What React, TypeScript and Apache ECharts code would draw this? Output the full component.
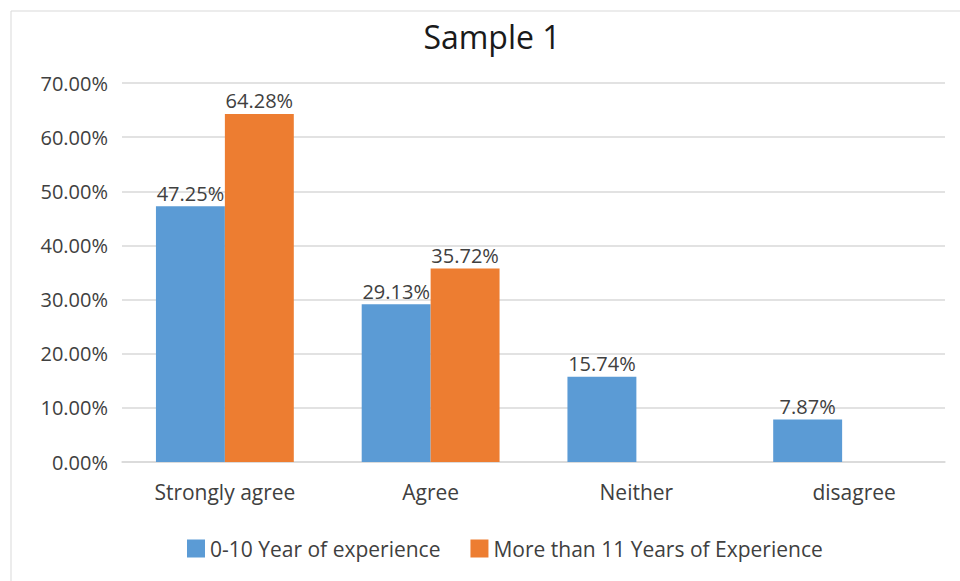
import React, { useEffect, useRef } from "react";
import * as echarts from "echarts";

const categories = ["Strongly agree", "Agree", "Neither", "disagree"];
const seriesNames = ["0-10 Year of experience", "More than 11 Years of Experience"];
const juniorValues: (number | string)[] = [47.25, 29.13, 15.74, 7.87];
const seniorValues: (number | string)[] = [64.28, 35.72, "-", "-"];
const yTicks = [0, 10, 20, 30, 40, 50, 60, 70];

const FONT = "'Open Sans', 'Noto Sans', sans-serif";

export default function App() {
  const ref = useRef<HTMLDivElement>(null);

  useEffect(() => {
    if (!ref.current) return;
    const chart = echarts.init(ref.current, undefined, { renderer: "svg" });
    const labelCfg = {
      show: true,
      position: "top" as const,
      distance: 3,
      color: "#404040",
      fontFamily: FONT,
      fontSize: 20,
      formatter: (p: any) => `${Number(p.value).toFixed(2)}%`,
    };
    // the last category label sits a little right of its bar
    const categoryData = categories.map((c, i) =>
      i === categories.length - 1 ? { value: c, textStyle: { padding: [0, 0, 0, 24] } } : c
    );
    chart.setOption({
      animation: false,
      backgroundColor: "#ffffff",
      color: ["#5B9BD5", "#ED7D31"],
      title: {
        text: "Sample 1",
        left: 487,
        top: 15,
        textAlign: "center",
        textStyle: { fontFamily: FONT, fontSize: 32, fontWeight: "normal", color: "#1a1a1a" },
      },
      graphic: [
        {
          type: "rect",
          shape: { x: 11, y: 11, width: 1000, height: 700 },
          style: { fill: "none", stroke: "#d9d9d9", lineWidth: 1 },
          silent: true,
          z: -1,
        },
      ],
      legend: {
        data: seriesNames,
        left: 182,
        top: 533,
        itemWidth: 18,
        itemHeight: 18,
        itemGap: 30,
        icon: "rect",
        textStyle: { fontFamily: FONT, fontSize: 21, color: "#404040" },
      },
      grid: { left: 122, right: 15, top: 83, height: 379, containLabel: false },
      xAxis: {
        type: "category",
        data: categoryData,
        axisLine: { lineStyle: { color: "#d9d9d9", width: 1.5 } },
        axisTick: { show: false },
        axisLabel: { color: "#404040", fontFamily: FONT, fontSize: 21, margin: 19 },
      },
      yAxis: {
        type: "value",
        min: yTicks[0],
        max: yTicks[yTicks.length - 1],
        interval: 10,
        axisLine: { show: false },
        axisTick: { show: false },
        splitLine: { lineStyle: { color: "#d9d9d9", width: 1.5 } },
        axisLabel: {
          color: "#404040",
          fontFamily: FONT,
          fontSize: 20,
          margin: 14,
          formatter: (v: number) => `${v.toFixed(2)}%`,
        },
      },
      series: [
        {
          name: seriesNames[0],
          type: "bar",
          data: juniorValues,
          barGap: "0%",
          barCategoryGap: "33%",
          label: labelCfg,
        },
        {
          name: seriesNames[1],
          type: "bar",
          data: seniorValues,
          barGap: "0%",
          barCategoryGap: "33%",
          label: labelCfg,
        },
      ],
    });
    return () => chart.dispose();
  }, []);

  return (
    <div
      ref={ref}
      style={{ position: "fixed", left: 0, top: 0, width: 960, height: 581 }}
    />
  );
}
